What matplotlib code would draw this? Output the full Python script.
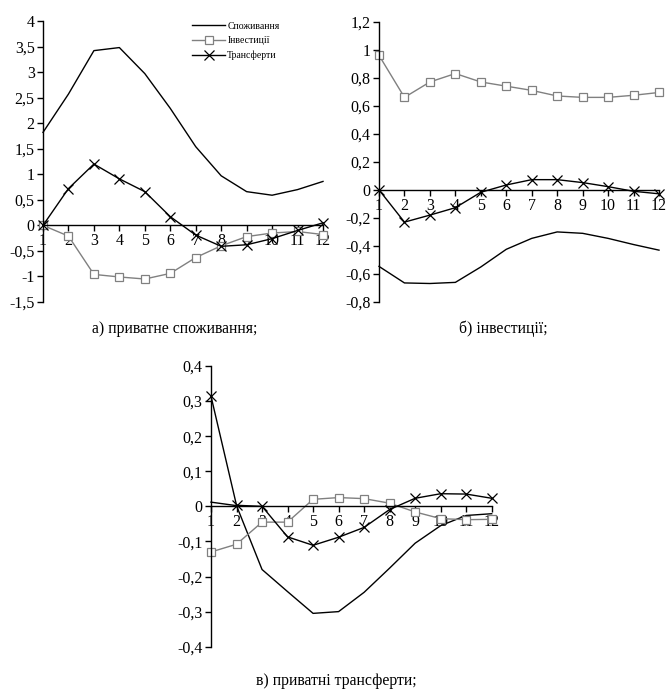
import matplotlib
matplotlib.use("Agg")
import matplotlib.pyplot as plt
from matplotlib.ticker import FixedLocator, FixedFormatter

plt.rcParams['font.family'] = ['Liberation Serif', 'DejaVu Serif']

periods = list(range(1, 13))
series_names = ["Споживання", "Інвестиції", "Трансферти"]

# а) shock to private consumption
a_consumption = [1.82, 2.57, 3.42, 3.48, 2.97, 2.29, 1.54, 0.97, 0.66, 0.59, 0.70, 0.86]
a_investment = [0.0, -0.21, -0.96, -1.01, -1.05, -0.94, -0.63, -0.40, -0.22, -0.15, -0.12, -0.18]
a_transfers = [0.0, 0.72, 1.20, 0.91, 0.66, 0.17, -0.19, -0.41, -0.38, -0.26, -0.10, 0.05]
a_yticks = [-1.5, -1, -0.5, 0, 0.5, 1, 1.5, 2, 2.5, 3, 3.5, 4]
a_ylabels = ["-1,5", "-1", "-0,5", "0", "0,5", "1", "1,5", "2", "2,5", "3", "3,5", "4"]

# б) shock to investment
b_consumption = [-0.546, -0.664, -0.668, -0.66, -0.55, -0.424, -0.346, -0.30, -0.31, -0.346, -0.39, -0.43]
b_investment = [0.96, 0.66, 0.77, 0.83, 0.77, 0.74, 0.71, 0.67, 0.66, 0.66, 0.675, 0.695]
b_transfers = [0.0, -0.23, -0.18, -0.127, -0.017, 0.035, 0.073, 0.073, 0.052, 0.023, -0.01, -0.028]
b_yticks = [-0.8, -0.6, -0.4, -0.2, 0, 0.2, 0.4, 0.6, 0.8, 1, 1.2]
b_ylabels = ["-0,8", "-0,6", "-0,4", "-0,2", "0", "0,2", "0,4", "0,6", "0,8", "1", "1,2"]

# в) shock to private transfers
c_consumption = [0.012, 0.002, -0.18, -0.243, -0.305, -0.30, -0.245, -0.176, -0.105, -0.055, -0.026, -0.021]
c_investment = [-0.13, -0.108, -0.045, -0.045, 0.02, 0.025, 0.022, 0.009, -0.016, -0.035, -0.038, -0.037]
c_transfers = [0.314, 0.003, 0.0, -0.087, -0.111, -0.088, -0.06, -0.009, 0.023, 0.036, 0.035, 0.023]
c_yticks = [-0.4, -0.3, -0.2, -0.1, 0, 0.1, 0.2, 0.3, 0.4]
c_ylabels = ["-0,4", "-0,3", "-0,2", "-0,1", "0", "0,1", "0,2", "0,3", "0,4"]

captions = ["а) приватне споживання;", "б) інвестиції;", "в) приватні трансферти;"]

W, H = 666, 697
fig = plt.figure(figsize=(W / 100, H / 100), dpi=100)
fig.patch.set_facecolor("white")

GRAY = "#808080"


def make_axes(px_left, px_right, px_top, px_bottom):
    return fig.add_axes([px_left / W, 1 - px_bottom / H,
                         (px_right - px_left) / W, (px_bottom - px_top) / H])


def draw(ax, cons, inv, trans, yticks, ylabels):
    ax.plot(periods, cons, color="black", lw=1.0, label=series_names[0],
            zorder=2, clip_on=False)
    ax.plot(periods, inv, color=GRAY, lw=1.0, marker="s", markersize=5.5,
            markerfacecolor="white", markeredgecolor=GRAY, markeredgewidth=0.9,
            label=series_names[1], zorder=2, clip_on=False)
    ax.plot(periods, trans, color="black", lw=1.0, marker="x", markersize=6.5,
            markeredgewidth=0.9, label=series_names[2], zorder=2, clip_on=False)
    ax.set_xlim(1, 12)
    ax.set_ylim(yticks[0], yticks[-1])
    for s in ("top", "right"):
        ax.spines[s].set_visible(False)
    ax.spines["bottom"].set_position(("data", 0))
    ax.spines["left"].set_linewidth(1.0)
    ax.spines["bottom"].set_linewidth(1.0)
    ax.xaxis.set_major_locator(FixedLocator(periods))
    ax.xaxis.set_major_formatter(FixedFormatter([str(p) for p in periods]))
    ax.yaxis.set_major_locator(FixedLocator(yticks))
    ax.yaxis.set_major_formatter(FixedFormatter(ylabels))
    ax.tick_params(axis="both", direction="out", length=4, width=1.0,
                   labelsize=11.5, pad=2)
    ax.tick_params(axis="x", pad=1.5)
    for lab in ax.get_xticklabels():
        lab.set_bbox(dict(facecolor="white", edgecolor="none", pad=0.2))
    ax.set_facecolor("none")


ax_a = make_axes(43, 323, 21, 302)
draw(ax_a, a_consumption, a_investment, a_transfers, a_yticks, a_ylabels)
leg = ax_a.legend(loc="upper left", bbox_to_anchor=(0.533, 0.997), frameon=False,
                  fontsize=7, handlelength=3.4, labelspacing=0.55,
                  handletextpad=0.2, borderaxespad=0, borderpad=0)

ax_b = make_axes(379, 659, 21.7, 302)
draw(ax_b, b_consumption, b_investment, b_transfers, b_yticks, b_ylabels)

ax_c = make_axes(211, 491.7, 366, 646.7)
draw(ax_c, c_consumption, c_investment, c_transfers, c_yticks, c_ylabels)

fig.text(175 / W, 1 - 329 / H, captions[0], ha="center", va="center", fontsize=11.3)
fig.text(503 / W, 1 - 329 / H, captions[1], ha="center", va="center", fontsize=11.3)
fig.text(336 / W, 1 - 681 / H, captions[2], ha="center", va="center", fontsize=11.3)

fig.savefig("out.png", dpi=100, facecolor="white")
